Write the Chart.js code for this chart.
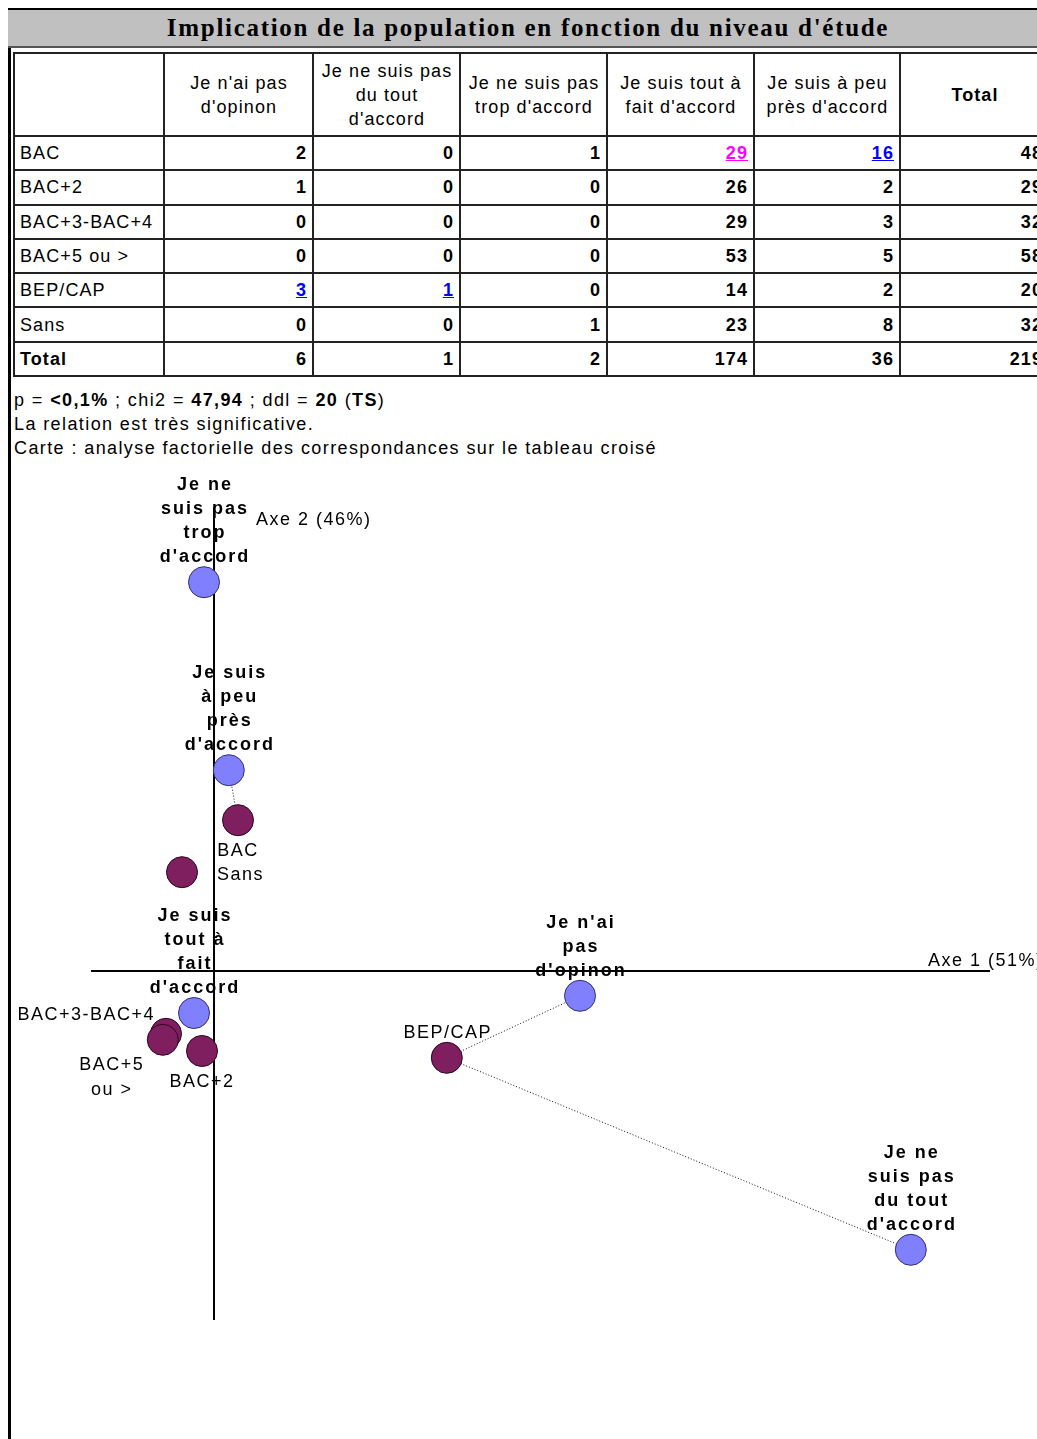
<!DOCTYPE html>
<html lang="fr">
<head>
<meta charset="utf-8">
<title>Implication de la population en fonction du niveau d'étude</title>
<script src="https://cdn.jsdelivr.net/npm/chart.js@4.4.0/dist/chart.umd.min.js"></script>
<style>
  html, body { margin: 0; padding: 0; background: #fff; }
  body {
    width: 1037px; height: 1439px; overflow: hidden; position: relative;
    font-family: "Liberation Sans", Arial, sans-serif; color: #000;
  }
  #frame { position: absolute; left: 8px; top: 8px; width: 3px; height: 1431px; background: #000; }
  #title {
    position: absolute; left: 8px; top: 8px; width: 1040px; height: 36px;
    background: #c0c0c0; border-top: 2px solid #000; border-bottom: 2px solid #555;
    font: bold 25px "Liberation Serif", "Times New Roman", serif;
    text-align: center; line-height: 36px; letter-spacing: 1.7px;
  }
  #crosstab {
    position: absolute; left: 13px; top: 52px;
    border-collapse: collapse; table-layout: fixed; width: 1035px;
    font-size: 18px; letter-spacing: 1.1px;
  }
  #crosstab td, #crosstab th { border: 2px solid #222; padding: 0 5px 0 6px; line-height: 24px; }
  #crosstab th { font-weight: normal; text-align: center; }
  #crosstab th.tot { font-weight: bold; }
  #crosstab tr.head { height: 83px; }
  #crosstab tr.row { height: 34.3px; }
  #crosstab td.lab { text-align: left; padding-left: 5px; }
  #crosstab td.num { text-align: right; font-weight: bold; }
  #crosstab tr.total td.lab { font-weight: bold; }
  #crosstab a { text-decoration: underline; }
  #notes {
    position: absolute; left: 14px; top: 388px;
    font-size: 18px; line-height: 24px; letter-spacing: 1.4px;
  }
  #afc { position: absolute; left: 0; top: 460px; }
</style>
</head>
<body>
<div id="frame"></div>
<div id="title">Implication de la population en fonction du niveau d'étude</div>
<table id="crosstab">
  <colgroup>
    <col style="width:150px"><col style="width:149px"><col style="width:147px"><col style="width:147px">
    <col style="width:147px"><col style="width:146px"><col style="width:149px">
  </colgroup>
  <tbody id="tbody"></tbody>
</table>
<div id="notes">
  <div>p = <b>&lt;0,1%</b> ; chi2 = <b>47,94</b> ; ddl = <b>20</b> (<b>TS</b>)</div>
  <div>La relation est très significative.</div>
  <div>Carte : analyse factorielle des correspondances sur le tableau croisé</div>
</div>
<canvas id="afc" width="1037" height="979"></canvas>

<script>
// Colonnes : réponses à la question
const opinions = ["Je n'ai pas d'opinon", "Je ne suis pas du tout d'accord", "Je ne suis pas trop d'accord",
  "Je suis tout à fait d'accord", "Je suis à peu près d'accord"];
// Lignes : niveau d'étude
const niveaux = ['BAC', 'BAC+2', 'BAC+3-BAC+4', 'BAC+5 ou >', 'BEP/CAP', 'Sans'];

// effectifs, une liste par colonne (ordre des niveaux)
const effNoOpinion = [2, 1, 0, 0, 3, 0];
const effPasDuTout = [0, 0, 0, 0, 1, 0];
const effPasTrop = [1, 0, 0, 0, 0, 1];
const effToutAFait = [29, 26, 29, 53, 14, 23];
const effAPeuPres = [16, 2, 3, 5, 2, 8];

// cases significatives [niveau, opinion]
const surRep = [[0, 4], [4, 0], [4, 1]];
const sousRep = [[0, 3]];

// coordonnées factorielles (axe 1, axe 2)
const opinionAxe1 = [0.915, 1.742, -0.025, -0.05, 0.037];
const opinionAxe2 = [-0.062, -0.697, 0.972, -0.105, 0.502];
const niveauAxe1 = [0.06, -0.03, -0.12, -0.128, 0.582, -0.08];
const niveauAxe2 = [0.377, -0.2, -0.157, -0.172, -0.217, 0.247];

// libellés sur la carte
const opinionMapLabels = ["Je n'ai\npas\nd'opinon", "Je ne\nsuis pas\ndu tout\nd'accord", "Je ne\nsuis pas\ntrop\nd'accord",
  "Je suis\ntout à\nfait\nd'accord", "Je suis\nà peu\nprès\nd'accord"];
const niveauMapLabels = ['BAC', 'BAC+2', 'BAC+3-BAC+4', 'BAC+5\nou >', 'BEP/CAP', 'Sans'];
const niveauLabelSide = ['below', 'below', 'upleft', 'downleft', 'above', 'right'];

const axe1Title = 'Axe 1 (51%)';
const axe2Title = 'Axe 2 (46%)';
const axe1Range = [-0.3075, 1.94];
const axe2Range = [-0.8725, 1.16];

// ---- tableau croisé ----
const colonnes = [effNoOpinion, effPasDuTout, effPasTrop, effToutAFait, effAPeuPres];
const tbody = document.getElementById('tbody');

const head = document.createElement('tr');
head.className = 'head';
head.appendChild(document.createElement('th'));
opinions.forEach(o => {
  const th = document.createElement('th');
  th.textContent = o;
  head.appendChild(th);
});
const thTot = document.createElement('th');
thTot.className = 'tot';
thTot.textContent = 'Total';
head.appendChild(thTot);
tbody.appendChild(head);

function addCell(tr, value, color) {
  const td = document.createElement('td');
  td.className = 'num';
  if (color) {
    const a = document.createElement('a');
    a.style.color = color;
    a.textContent = value;
    td.appendChild(a);
  } else {
    td.textContent = value;
  }
  tr.appendChild(td);
}

const isIn = (list, r, c) => list.some(([a, b]) => a === r && b === c);

niveaux.forEach((niv, r) => {
  const tr = document.createElement('tr');
  tr.className = 'row';
  const lab = document.createElement('td');
  lab.className = 'lab';
  lab.textContent = niv;
  tr.appendChild(lab);
  let tot = 0;
  colonnes.forEach((col, c) => {
    tot += col[r];
    const color = isIn(surRep, r, c) ? '#0000ff' : isIn(sousRep, r, c) ? '#ff00ff' : null;
    addCell(tr, col[r], color);
  });
  addCell(tr, tot, null);
  tbody.appendChild(tr);
});

const trTot = document.createElement('tr');
trTot.className = 'row total';
const labTot = document.createElement('td');
labTot.className = 'lab';
labTot.textContent = 'Total';
trTot.appendChild(labTot);
let grand = 0;
colonnes.forEach(col => {
  const s = col.reduce((a, b) => a + b, 0);
  grand += s;
  addCell(trTot, s, null);
});
addCell(trTot, grand, null);
tbody.appendChild(trTot);

// ---- carte AFC ----
const FONT = '"Liberation Sans", Arial, sans-serif';

function drawLabel(ctx, text, px, py, side, bold) {
  const lines = text.split('\n');
  const lh = bold ? 24 : 25;
  ctx.font = (bold ? 'bold ' : '') + '18px ' + FONT;
  ctx.letterSpacing = bold ? '2px' : '1.5px';
  ctx.textBaseline = 'middle';
  ctx.fillStyle = '#000';
  let x0 = px, y0 = py + 2, align = 'center';
  if (side === 'above') { x0 = px + 1; y0 = py - 25 - (lines.length - 1) * lh; }
  else if (side === 'below') { y0 = py + 31; }
  else if (side === 'right') { align = 'left'; x0 = px + 35; y0 = py + 3; }
  else if (side === 'upleft') { align = 'right'; x0 = px - 11; y0 = py - 19; }
  else if (side === 'downleft') { x0 = px - 51; y0 = py + 25; }
  ctx.textAlign = align;
  lines.forEach((l, i) => ctx.fillText(l, x0, y0 + i * lh));
}

const afcPlugin = {
  id: 'afcDecor',
  beforeDatasetsDraw(chart) {
    const { ctx, scales: { x, y } } = chart;
    ctx.save();

    // libellés d'abord : les axes passent par-dessus
    opinionMapLabels.forEach((t, i) => {
      drawLabel(ctx, t, x.getPixelForValue(opinionAxe1[i]), y.getPixelForValue(opinionAxe2[i]), 'above', true);
    });
    niveauMapLabels.forEach((t, i) => {
      drawLabel(ctx, t, x.getPixelForValue(niveauAxe1[i]), y.getPixelForValue(niveauAxe2[i]), niveauLabelSide[i], false);
    });

    const x0 = x.getPixelForValue(0);
    const y0 = y.getPixelForValue(0);
    ctx.strokeStyle = '#000';
    ctx.lineWidth = 2;
    ctx.beginPath();
    ctx.moveTo(x.getPixelForValue(axe1Range[0]), y0);
    ctx.lineTo(x.getPixelForValue(axe1Range[1]), y0);
    ctx.moveTo(x0, y.getPixelForValue(axe2Range[1]));
    ctx.lineTo(x0, y.getPixelForValue(axe2Range[0]));
    ctx.stroke();

    ctx.font = '18px ' + FONT;
    ctx.letterSpacing = '1.5px';
    ctx.textAlign = 'left';
    ctx.textBaseline = 'middle';
    ctx.fillText(axe1Title, x.getPixelForValue(axe1Range[1]) - 62, y0 - 10);
    ctx.fillText(axe2Title, x0 + 42, y.getPixelForValue(axe2Range[1]) + 13);

    // liens pointillés des cases sur-représentées
    ctx.setLineDash([1, 2]);
    ctx.lineWidth = 1;
    ctx.strokeStyle = '#111';
    surRep.forEach(([r, c]) => {
      ctx.beginPath();
      ctx.moveTo(x.getPixelForValue(niveauAxe1[r]), y.getPixelForValue(niveauAxe2[r]));
      ctx.lineTo(x.getPixelForValue(opinionAxe1[c]), y.getPixelForValue(opinionAxe2[c]));
      ctx.stroke();
    });
    ctx.restore();
  }
};

new Chart(document.getElementById('afc').getContext('2d'), {
  type: 'scatter',
  data: {
    datasets: [
      {
        label: "Niveau d'étude",
        data: niveaux.map((n, i) => ({ x: niveauAxe1[i], y: niveauAxe2[i] })),
        backgroundColor: '#7f1f5f',
        borderColor: '#2a0820',
        borderWidth: 1,
        pointRadius: 15.5
      },
      {
        label: 'Implication',
        data: opinions.map((o, i) => ({ x: opinionAxe1[i], y: opinionAxe2[i] })),
        backgroundColor: '#8080ff',
        borderColor: '#303070',
        borderWidth: 1,
        pointRadius: 15.5
      }
    ]
  },
  options: {
    responsive: false,
    animation: false,
    events: [],
    layout: { padding: 0, autoPadding: false },
    plugins: {
      legend: { display: false },
      tooltip: { enabled: false }
    },
    scales: {
      x: { type: 'linear', display: false, min: -0.535, max: 2.0575 },
      y: { type: 'linear', display: false, min: -1.17, max: 1.2775 }
    }
  },
  plugins: [afcPlugin]
});
</script>
</body>
</html>
